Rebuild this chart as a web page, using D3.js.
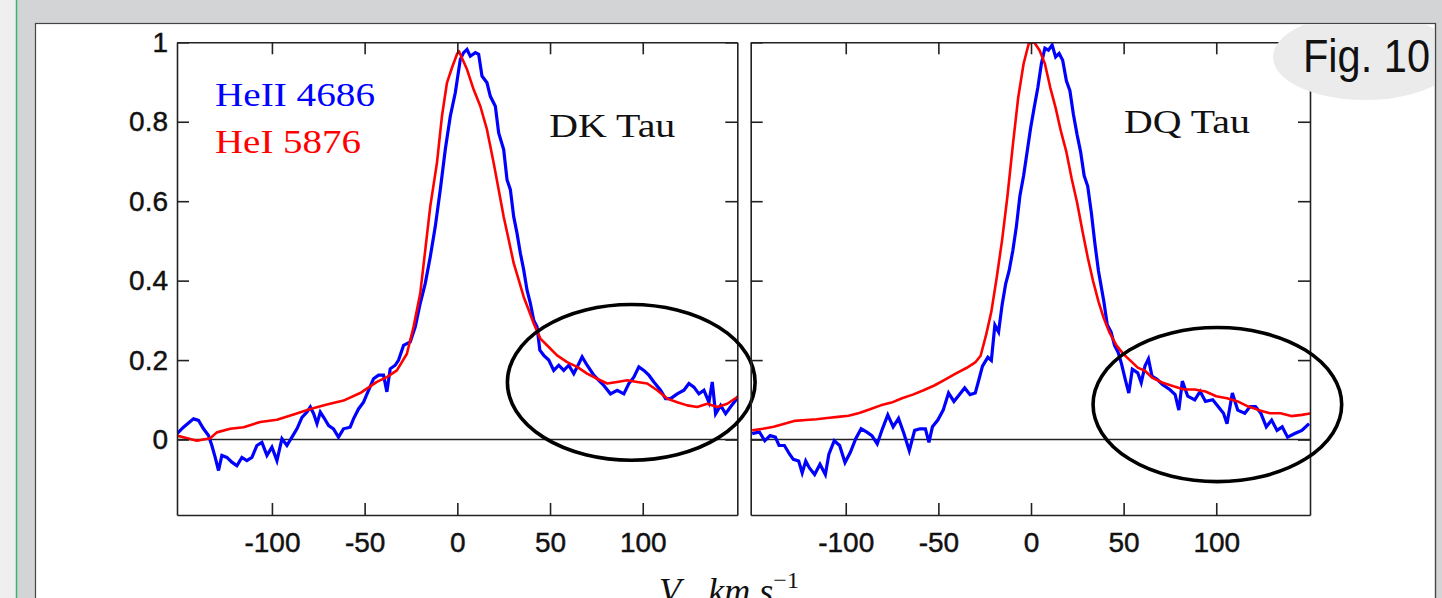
<!DOCTYPE html>
<html>
<head>
<meta charset="utf-8">
<script src="https://cdnjs.cloudflare.com/ajax/libs/d3/7.8.5/d3.min.js"></script>
<style>
body { margin: 0; background: #d3d4d6; overflow: hidden; }
.axis text { font-family: "Liberation Sans", Arial, sans-serif; font-size: 28px; fill: #111; stroke: #111; stroke-width: 0.45; }
.axis path, .axis line { stroke: #222; stroke-width: 1.6; }
.serif { font-family: "Liberation Serif", "Times New Roman", serif; }
</style>
</head>
<body>
<div id="chart"></div>
<script>

// ---- data ----
var velocityTicks = [-100, -50, 0, 50, 100];
var velocityTickLabels = ["-100", "-50", "0", "50", "100"];
var fluxTicks = [0, 0.2, 0.4, 0.6, 0.8, 1];
var fluxTickLabels = ["0", "0.2", "0.4", "0.6", "0.8", "1"];
var lineNames = ["HeII 4686", "HeI 5876"];
var starNames = ["DK Tau", "DQ Tau"];

// DK Tau, HeII 4686 (blue) : [velocity km/s, normalised flux]
var dkTauHeII = [[-151.3,0.014],[-147.7,0.031],[-142.3,0.052],[-139.6,0.048],[-136.9,0.027],[-134.2,0.010],[-132.4,-0.015],[-130.6,-0.045],[-128.8,-0.078],[-127.0,-0.040],[-124.3,-0.045],[-121.6,-0.057],[-118.9,-0.066],[-116.2,-0.045],[-113.5,-0.053],[-110.8,-0.045],[-108.1,-0.015],[-105.4,-0.007],[-102.7,-0.040],[-100.0,-0.019],[-97.3,-0.053],[-94.6,0.002],[-91.9,-0.015],[-89.2,0.006],[-86.5,0.027],[-83.8,0.056],[-81.1,0.069],[-79.3,0.082],[-77.5,0.065],[-75.7,0.040],[-73.9,0.069],[-72.1,0.056],[-69.4,0.035],[-66.8,0.027],[-64.1,0.006],[-61.4,0.027],[-57.8,0.031],[-56.0,0.052],[-53.3,0.077],[-50.6,0.094],[-47.9,0.124],[-45.2,0.153],[-42.5,0.162],[-39.8,0.162],[-38.0,0.120],[-36.2,0.178],[-33.5,0.187],[-31.7,0.200],[-29.0,0.237],[-25.4,0.246],[-22.7,0.284],[-20.0,0.343],[-17.3,0.393],[-14.6,0.460],[-11.9,0.536],[-9.2,0.629],[-6.5,0.730],[-3.8,0.814],[-1.1,0.873],[1.6,0.957],[3.4,0.974],[5.2,0.982],[7.0,0.965],[9.7,0.974],[11.5,0.970],[13.3,0.915],[16.0,0.898],[17.8,0.864],[20.5,0.839],[22.3,0.772],[25.0,0.730],[26.8,0.654],[28.6,0.629],[30.4,0.561],[32.2,0.519],[34.0,0.469],[35.8,0.427],[37.6,0.376],[39.4,0.343],[41.2,0.300],[43.0,0.284],[44.5,0.225],[46.6,0.212],[49.3,0.200],[52.0,0.174],[54.7,0.187],[57.4,0.174],[60.1,0.187],[62.8,0.166],[65.5,0.191],[67.3,0.208],[70.0,0.187],[73.6,0.162],[76.3,0.149],[79.0,0.136],[82.6,0.115],[86.2,0.124],[89.8,0.115],[92.5,0.141],[95.2,0.157],[97.9,0.183],[100.6,0.174],[103.3,0.162],[106.0,0.145],[109.6,0.124],[112.3,0.103],[115.0,0.103],[118.6,0.115],[122.2,0.124],[124.9,0.141],[127.6,0.132],[130.3,0.115],[133.0,0.124],[135.7,0.094],[137.5,0.145],[139.3,0.065],[142.0,0.086],[144.7,0.065],[147.3,0.082],[150.0,0.098],[151.8,0.111]];

// DK Tau, HeI 5876 (red)
var dkTauHeI = [[-151.3,0.010],[-140.5,-0.003],[-133.3,0.003],[-129.7,0.018],[-122.5,0.027],[-115.3,0.031],[-106.3,0.044],[-97.3,0.050],[-88.3,0.063],[-79.3,0.077],[-70.3,0.088],[-61.4,0.098],[-52.4,0.117],[-43.4,0.145],[-38.0,0.157],[-32.6,0.174],[-27.2,0.216],[-23.6,0.284],[-20.0,0.368],[-17.3,0.477],[-14.6,0.587],[-11.0,0.696],[-8.3,0.814],[-5.6,0.898],[-2.9,0.936],[-0.2,0.970],[0.8,0.978],[5.2,0.932],[8.8,0.881],[12.4,0.839],[16.0,0.780],[19.6,0.696],[22.3,0.629],[25.0,0.561],[27.7,0.503],[30.4,0.444],[33.1,0.402],[35.8,0.359],[38.5,0.326],[41.2,0.292],[44.8,0.254],[49.3,0.233],[53.8,0.212],[59.2,0.195],[64.6,0.183],[70.0,0.166],[75.4,0.153],[80.8,0.141],[86.2,0.145],[91.6,0.149],[97.0,0.145],[102.4,0.141],[107.8,0.124],[113.2,0.103],[118.6,0.094],[124.0,0.086],[129.4,0.082],[134.8,0.090],[140.2,0.082],[145.6,0.090],[151.0,0.107]];

// DQ Tau, HeII 4686 (blue)
var dqTauHeII = [[-150.5,0.015],[-146.6,0.019],[-143.7,-0.003],[-140.8,0.010],[-138.0,0.006],[-136.0,-0.015],[-133.1,-0.015],[-130.3,-0.037],[-128.3,-0.050],[-125.4,-0.054],[-123.5,-0.084],[-121.6,-0.054],[-119.7,-0.071],[-116.8,-0.088],[-113.9,-0.062],[-111.0,-0.088],[-109.1,-0.037],[-106.2,-0.003],[-103.3,-0.015],[-100.4,-0.058],[-97.5,-0.032],[-94.6,0.002],[-91.7,0.027],[-88.8,0.019],[-85.9,0.010],[-83.0,-0.011],[-80.2,0.027],[-77.3,0.062],[-74.4,0.032],[-71.5,0.053],[-68.6,0.015],[-65.7,-0.028],[-62.8,0.023],[-59.9,0.027],[-57.0,0.027],[-55.1,-0.007],[-53.2,0.032],[-50.3,0.049],[-47.4,0.074],[-44.5,0.117],[-41.6,0.096],[-38.7,0.113],[-35.8,0.130],[-32.9,0.113],[-30.1,0.117],[-28.1,0.151],[-26.2,0.185],[-23.3,0.207],[-21.4,0.199],[-19.5,0.288],[-17.5,0.271],[-15.6,0.339],[-13.7,0.391],[-11.8,0.425],[-9.8,0.476],[-7.9,0.536],[-6.0,0.613],[-4.0,0.664],[-2.1,0.724],[-0.2,0.784],[1.7,0.835],[3.7,0.886],[5.6,0.946],[7.5,0.985],[9.4,0.980],[11.4,0.993],[13.3,0.963],[15.2,0.972],[17.1,0.955],[19.1,0.903],[21.0,0.878],[22.9,0.818],[24.9,0.767],[26.8,0.724],[28.7,0.664],[30.6,0.638],[32.6,0.570],[34.5,0.493],[36.4,0.425],[39.3,0.348],[41.2,0.288],[43.2,0.271],[45.1,0.237],[47.0,0.220],[48.9,0.190],[50.9,0.151],[52.8,0.117],[54.7,0.177],[57.6,0.168],[59.5,0.143],[61.5,0.185],[63.4,0.203],[65.3,0.160],[68.2,0.151],[71.1,0.138],[74.9,0.126],[77.8,0.113],[79.8,0.074],[81.7,0.147],[84.6,0.109],[88.4,0.100],[91.3,0.121],[94.2,0.096],[98.1,0.100],[101.0,0.083],[103.9,0.066],[105.8,0.040],[108.7,0.117],[111.6,0.074],[115.4,0.066],[118.3,0.083],[121.2,0.083],[124.1,0.066],[127.0,0.032],[129.9,0.049],[132.8,0.023],[135.6,0.032],[138.5,0.006],[142.4,0.015],[146.2,0.023],[150.1,0.040]];

// DQ Tau, HeI 5876 (red)
var dqTauHeI = [[-150.5,0.023],[-144.7,0.027],[-138.9,0.032],[-133.1,0.040],[-127.4,0.047],[-121.6,0.049],[-115.8,0.051],[-110.0,0.054],[-104.2,0.057],[-98.5,0.060],[-92.7,0.067],[-86.9,0.076],[-81.1,0.086],[-75.3,0.093],[-69.6,0.104],[-63.8,0.113],[-58.0,0.124],[-52.2,0.136],[-46.4,0.151],[-40.7,0.166],[-34.9,0.180],[-30.1,0.194],[-27.2,0.211],[-24.3,0.262],[-21.4,0.322],[-18.5,0.408],[-15.6,0.502],[-12.7,0.613],[-9.8,0.741],[-6.9,0.861],[-4.0,0.946],[-1.2,0.997],[1.7,1.0],[4.6,0.980],[7.5,0.946],[10.4,0.886],[13.3,0.835],[16.2,0.775],[19.1,0.724],[22.0,0.656],[24.9,0.596],[27.7,0.527],[30.6,0.459],[33.5,0.399],[36.4,0.348],[39.3,0.305],[42.2,0.271],[46.1,0.237],[49.9,0.215],[53.8,0.198],[57.6,0.181],[61.5,0.173],[65.3,0.156],[71.1,0.143],[76.9,0.134],[82.7,0.126],[88.4,0.126],[94.2,0.121],[100.0,0.109],[105.8,0.104],[111.6,0.096],[117.3,0.083],[123.1,0.074],[128.9,0.066],[134.7,0.066],[140.5,0.059],[146.2,0.062],[151.1,0.066]];

// hand-drawn rings round the red wings: [centre velocity, centre flux, half-width km/s, half-height flux]
var dkTauRing = [93.8, 0.144, 66.8, 0.196];
var dqTauRing = [100.6, 0.088, 67.1, 0.194];


/*
 * SpectrumPanel - one star, two normalised line profiles
 */

SpectrumPanel = function(_svg, _box, _star, _heII, _heI, _ring, _showFluxLabels){
    this.svg = _svg;
    this.box = _box;
    this.star = _star;
    this.heII = _heII;
    this.heI = _heI;
    this.ring = _ring;
    this.showFluxLabels = _showFluxLabels;

    this.initVis();
}

SpectrumPanel.prototype.initVis = function(){
    var vis = this;

    vis.width = vis.box.right - vis.box.left;
    vis.height = vis.box.bottom - vis.box.top;

    vis.g = vis.svg.append("g")
        .attr("transform", "translate(" + vis.box.left + "," + vis.box.top + ")");

    // Scales
    vis.x = d3.scaleLinear()
        .domain(vis.box.xDomain)
        .range([0, vis.width]);

    vis.y = d3.scaleLinear()
        .domain([-0.19, 1.0])
        .range([vis.height, 0]);

    // clip for the profiles
    vis.clipId = "clip-" + vis.star.replace(" ", "");
    vis.g.append("clipPath")
        .attr("id", vis.clipId)
        .append("rect")
        .attr("width", vis.width)
        .attr("height", vis.height);

    vis.line = d3.line()
        .x(function(d) { return vis.x(d[0]); })
        .y(function(d) { return vis.y(d[1]); })
        .curve(d3.curveLinear);

    vis.updateVis();
};

SpectrumPanel.prototype.updateVis = function(){
    var vis = this;

    // zero level
    vis.g.append("line")
        .attr("x1", 0)
        .attr("x2", vis.width)
        .attr("y1", vis.y(0))
        .attr("y2", vis.y(0))
        .attr("stroke", "#222")
        .attr("stroke-width", 1.6);

    // profiles (blue under red)
    var lines = vis.g.append("g").attr("clip-path", "url(#" + vis.clipId + ")");
    lines.append("path")
        .datum(vis.heII)
        .attr("d", vis.line)
        .attr("fill", "none")
        .attr("stroke", "#0000ff")
        .attr("stroke-width", 3.2)
        .attr("stroke-linejoin", "miter");
    lines.append("path")
        .datum(vis.heI)
        .attr("d", vis.line)
        .attr("fill", "none")
        .attr("stroke", "#ff0000")
        .attr("stroke-width", 2.6)
        .attr("stroke-linejoin", "round");

    // Axes - ticks point inwards on all four sides
    var xBottom = d3.axisBottom(vis.x).tickValues(velocityTicks)
        .tickSizeInner(-12).tickSizeOuter(0).tickPadding(17)
        .tickFormat(function(d, i) { return velocityTickLabels[i]; });
    var xTop = d3.axisTop(vis.x).tickValues(velocityTicks)
        .tickSizeInner(-12).tickSizeOuter(0).tickFormat("");
    var yLeft = d3.axisLeft(vis.y).tickValues(fluxTicks)
        .tickSizeInner(-12).tickSizeOuter(0).tickPadding(9)
        .tickFormat(function(d, i) { return vis.showFluxLabels ? fluxTickLabels[i] : ""; });
    var yRight = d3.axisRight(vis.y).tickValues(fluxTicks)
        .tickSizeInner(-12).tickSizeOuter(0).tickFormat("");

    vis.g.append("g").attr("class", "axis")
        .attr("transform", "translate(0," + vis.height + ")").call(xBottom);
    vis.g.append("g").attr("class", "axis").call(xTop);
    vis.g.append("g").attr("class", "axis").call(yLeft);
    vis.g.append("g").attr("class", "axis")
        .attr("transform", "translate(" + vis.width + ",0)").call(yRight);

    vis.g.selectAll(".axis .domain").attr("stroke", "#222");

    // star name
    vis.g.append("text")
        .attr("class", "serif")
        .attr("x", vis.x(vis.box.nameAt[0]))
        .attr("y", vis.y(vis.box.nameAt[1]))
        .attr("font-size", 34)
        .attr("textLength", 126)
        .attr("lengthAdjust", "spacingAndGlyphs")
        .attr("fill", "#111")
        .text(vis.star);

    // ring annotation
    vis.g.append("ellipse")
        .attr("cx", vis.x(vis.ring[0]))
        .attr("cy", vis.y(vis.ring[1]))
        .attr("rx", vis.x(vis.ring[2]) - vis.x(0))
        .attr("ry", vis.y(0) - vis.y(vis.ring[3]))
        .attr("fill", "none")
        .attr("stroke", "#000")
        .attr("stroke-width", 3.6);
};


// ---- page ----
var W = 1442, H = 598;

var svg = d3.select("#chart").append("svg")
    .attr("width", W)
    .attr("height", H);

// window chrome
svg.append("rect").attr("width", W).attr("height", H).attr("fill", "#d3d4d6");
svg.append("rect").attr("width", 16).attr("height", H).attr("fill", "#efefef");
svg.append("line").attr("x1", 16.5).attr("x2", 16.5).attr("y1", 0).attr("y2", H)
    .attr("stroke", "#3cb371").attr("stroke-width", 1.5);
svg.append("rect")
    .attr("x", 35.5).attr("y", 23.5)
    .attr("width", 1400).attr("height", H)
    .attr("fill", "#fff")
    .attr("stroke", "#444").attr("stroke-width", 1.2);

// the sheet clips the figure badge
svg.append("clipPath").attr("id", "sheet")
    .append("rect").attr("x", 36).attr("y", 24).attr("width", 1399).attr("height", H);

var dk = new SpectrumPanel(svg,
    { left: 177, right: 737.3, top: 42.3, bottom: 515, xDomain: [-151.2, 151.0], nameAt: [49.6, 0.761] },
    starNames[0], dkTauHeII, dkTauHeI, dkTauRing, true);

var dq = new SpectrumPanel(svg,
    { left: 750.7, right: 1310, top: 42.3, bottom: 515, xDomain: [-151.3, 150.6], nameAt: [50.2, 0.771] },
    starNames[1], dqTauHeII, dqTauHeI, dqTauRing, false);

// legend, written inside the DK Tau panel
var legend = svg.append("g").attr("class", "serif").attr("font-size", 34);
legend.append("text")
    .attr("x", 215).attr("y", 106)
    .attr("fill", "#0000ff")
    .attr("textLength", 160).attr("lengthAdjust", "spacingAndGlyphs")
    .text(lineNames[0]);
legend.append("text")
    .attr("x", 215).attr("y", 153)
    .attr("fill", "#ff0000")
    .attr("textLength", 146).attr("lengthAdjust", "spacingAndGlyphs")
    .text(lineNames[1]);

// x axis title (cut by the bottom of the window, as in the figure)
var xTitle = svg.append("text")
    .attr("class", "serif")
    .attr("x", 659).attr("y", 603)
    .attr("font-size", 36)
    .attr("font-style", "italic")
    .attr("fill", "#111");
xTitle.append("tspan").text("V");
xTitle.append("tspan").attr("dy", 8).attr("font-size", 24).text("r");
xTitle.append("tspan").attr("dy", -8).text(", km s");
xTitle.append("tspan").attr("dy", -15).attr("font-size", 24).attr("font-style", "normal").text("\u22121");

// figure badge
var badge = svg.append("g").attr("clip-path", "url(#sheet)");
badge.append("ellipse")
    .attr("cx", 1365).attr("cy", 57)
    .attr("rx", 92).attr("ry", 43)
    .attr("fill", "#ebebeb");
badge.append("text")
    .attr("x", 1303).attr("y", 72)
    .attr("font-family", "Liberation Sans, Arial, sans-serif")
    .attr("font-size", 46)
    .attr("fill", "#111")
    .attr("textLength", 127).attr("lengthAdjust", "spacingAndGlyphs")
    .text("Fig. 10");

// right edge of the white sheet
svg.append("line").attr("x1", 1435.5).attr("x2", 1435.5).attr("y1", 23).attr("y2", H)
    .attr("stroke", "#444").attr("stroke-width", 1.2);

</script>
</body>
</html>
